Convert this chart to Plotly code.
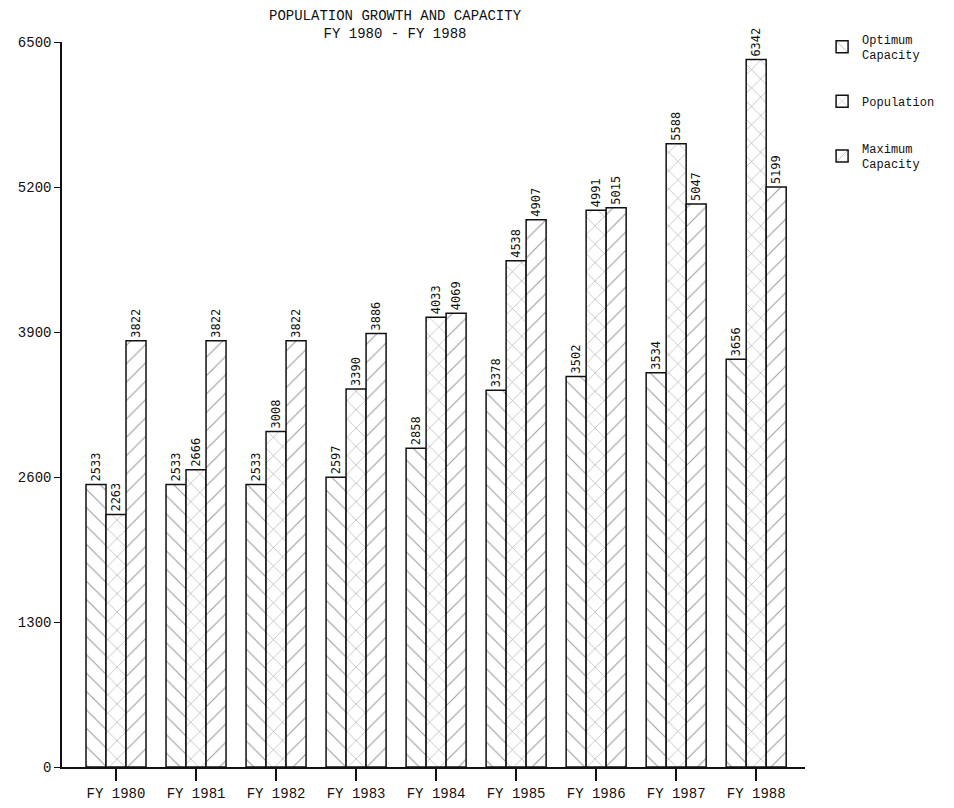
import plotly.graph_objects as go

years = ["FY 1980", "FY 1981", "FY 1982", "FY 1983", "FY 1984",
         "FY 1985", "FY 1986", "FY 1987", "FY 1988"]
optimum = [2533, 2533, 2533, 2597, 2858, 3378, 3502, 3534, 3656]
population = [2263, 2666, 3008, 3390, 4033, 4538, 4991, 5588, 6342]
maximum = [3822, 3822, 3822, 3886, 4069, 4907, 5015, 5047, 5199]
y_ticks = [0, 1300, 2600, 3900, 5200, 6500]

MONO = "Liberation Mono"
LABEL = "DejaVu Sans Mono"

def bar(name, vals, shape, group):
    return go.Bar(
        x=years, y=vals, name=name, legendgroup=group,
        text=[str(v) for v in vals], textposition="outside", textangle=-90,
        textfont=dict(family=LABEL, size=12, color="#111"),
        cliponaxis=False, constraintext="none",
        marker=dict(color="white", line=dict(color="#111", width=1.5),
                    pattern=dict(shape=shape, fgcolor="#333", bgcolor="white",
                                 size=13, solidity=0.08)),
    )

fig = go.Figure([
    bar("Optimum<br>Capacity", optimum, "\\", "a"),
    bar("Population", population, "x", "b"),
    bar("Maximum<br>Capacity", maximum, "/", "c"),
])

fig.update_layout(
    width=946, height=800,
    paper_bgcolor="white", plot_bgcolor="white",
    margin=dict(l=54, r=149, t=34, b=41, autoexpand=False),
    barmode="group", bargap=0.25, bargroupgap=0,
    annotations=[dict(text="POPULATION GROWTH AND CAPACITY<br>FY 1980 - FY 1988",
                      xref="paper", yref="paper", x=(395 - 62) / 743,
                      y=1 + (42 - 6) / 725, xanchor="center", yanchor="top",
                      showarrow=False,
                      font=dict(family=MONO, size=14, color="#111"))],
    legend=dict(x=1.023, y=1.024, xanchor="left", yanchor="top",
                font=dict(family=MONO, size=12, color="#111"),
                tracegroupgap=28, bgcolor="rgba(0,0,0,0)"),
    showlegend=True,
    xaxis=dict(range=[-0.675, 8.61], showline=True, linecolor="#111", linewidth=1.5,
               ticks="outside", ticklen=12, tickcolor="#111", tickwidth=1.5,
               tickfont=dict(family=MONO, size=14, color="#111"),
               showgrid=False, zeroline=False, automargin=False),
    yaxis=dict(range=[0, 6500], tickvals=y_ticks, showline=True, linecolor="#111",
               linewidth=1.5, ticks="outside", ticklen=6, tickcolor="#111",
               tickfont=dict(family=MONO, size=14, color="#111"),
               showgrid=False, zeroline=False, automargin=False),
)

fig.write_html("out.html")
